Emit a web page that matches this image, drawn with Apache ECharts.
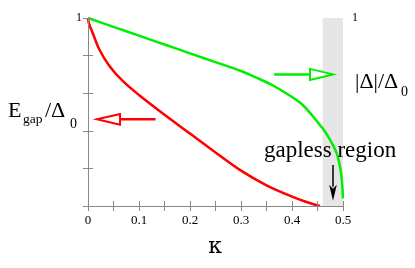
<!DOCTYPE html>
<html><head><meta charset="utf-8">
<script src="https://cdn.jsdelivr.net/npm/echarts@6/dist/echarts.min.js"></script>
<style>html,body{margin:0;padding:0;background:#fff}#c{width:415px;height:268px}</style>
</head><body><div id="c"></div>
<script>
// |Delta|/Delta_0 (green)
const greenKappa = [0,0.05,0.1,0.15,0.2,0.25,0.3,0.33,0.36,0.39,0.42,0.44,0.455,0.465,0.475,0.485,0.49,0.495,0.498,0.5];
const greenVal   = [1,0.953,0.906,0.859,0.812,0.765,0.718,0.683,0.645,0.597,0.54,0.48,0.43,0.395,0.35,0.298,0.26,0.195,0.13,0.04];
// E_gap/Delta_0 (red)
const redKappa = [0,0.002,0.009,0.022,0.042,0.068,0.1,0.15,0.2,0.25,0.3,0.35,0.4,0.43,0.455];
const redVal   = [1,0.97,0.922,0.834,0.745,0.665,0.59,0.485,0.385,0.285,0.188,0.11,0.05,0.02,0];
// shaded gapless region (kappa range)
const gaplessRange = [0.46, 0.5];
// annotation arrows in data coordinates: [tail, tip]
const redArrow   = [[0.1325,0.461],[0.0177,0.461]];
const greenArrow = [[0.365,0.70],[0.4804,0.70]];
const blackArrow = [[0.4804,0.218],[0.4804,0.028]];
// tick labels
const xTickLabels = ['0','0.1','0.2','0.3','0.4','0.5'];
const yTickLabels = ['1'];

const serif = 'Liberation Serif';
const axisGray = '#888888';

function xFmt(v){
  const k = Math.round(v*10);
  if (Math.abs(v*10 - k) > 1e-6) return '';
  return xTickLabels[k] || '';
}
function yFmt(v){ return Math.abs(v-1)<1e-9 ? yTickLabels[0] : ''; }

const baseX = {
  type:'value', min:0, max:0.5, interval:0.05, z:5,
  axisLine:{show:true, lineStyle:{color:axisGray, width:1}},
  axisTick:{show:true, inside:true, length:5, lineStyle:{color:axisGray}},
  splitLine:{show:false}
};
const baseY = {
  type:'value', min:0, max:1, interval:0.2, z:5,
  axisLine:{show:true, lineStyle:{color:axisGray, width:1}},
  axisTick:{show:true, inside:true, length:5, lineStyle:{color:axisGray}},
  splitLine:{show:false}
};

const option = {
  animation:false,
  backgroundColor:'#ffffff',
  grid:{left:88, right:72, top:18, bottom:62, containLabel:false},
  xAxis:[
    Object.assign({}, baseX, {position:'bottom',
      axisLabel:{show:true, formatter:xFmt, color:'#000', fontFamily:serif, fontSize:13, margin:8}}),
    Object.assign({}, baseX, {position:'top', axisLabel:{show:false}})
  ],
  yAxis:[
    Object.assign({}, baseY, {position:'left',
      axisLabel:{show:true, formatter:yFmt, color:'#000', fontFamily:serif, fontSize:12, margin:6, verticalAlign:'middle'}}),
    Object.assign({}, baseY, {position:'right',
      axisLabel:{show:true, formatter:yFmt, color:'#000', fontFamily:serif, fontSize:12, margin:9, verticalAlign:'middle'}})
  ],
  series:[
    {
      type:'line', name:'gap', xAxisIndex:0, yAxisIndex:0, z:3,
      data: redKappa.map((k,i)=>[k, redVal[i]]),
      showSymbol:false, smooth:0.35,
      lineStyle:{color:'#ff0000', width:2.5}
    },
    {
      type:'line', name:'delta', xAxisIndex:0, yAxisIndex:0, z:3,
      data: greenKappa.map((k,i)=>[k, greenVal[i]]),
      showSymbol:false, smooth:0.35,
      lineStyle:{color:'#00ee00', width:2.5},
      markArea:{silent:true, itemStyle:{color:'#e6e6e6'},
        data:[[{xAxis:gaplessRange[0]},{xAxis:gaplessRange[1]}]]}
    }
  ]
};

const chart = echarts.init(document.getElementById('c'), null, {renderer:'canvas'});
chart.setOption(option);

const px = p => chart.convertToPixel({xAxisIndex:0, yAxisIndex:0}, p);

function hollowArrow(arr, color, headLen, half){
  const S = px(arr[0]), T = px(arr[1]);
  const d = Math.sign(S[0]-T[0]);
  const bx = T[0] + d*headLen;
  return [
    {type:'line', z:10, shape:{x1:bx, y1:T[1], x2:S[0], y2:S[1]}, style:{stroke:color, lineWidth:2.5}},
    {type:'polygon', z:10, shape:{points:[[T[0],T[1]],[bx,T[1]-half],[bx,T[1]+half]]},
      style:{fill:'#ffffff', stroke:color, lineWidth:2}}
  ];
}
function solidArrowDown(arr, color, headLen, half){
  const S = px(arr[0]), T = px(arr[1]);
  const by = T[1]-headLen;
  return [
    {type:'line', z:10, shape:{x1:S[0], y1:S[1], x2:T[0], y2:by+2}, style:{stroke:color, lineWidth:1.5}},
    {type:'polygon', z:10, shape:{points:[[T[0],T[1]],[T[0]-half,by],[T[0],by+4],[T[0]+half,by]]},
      style:{fill:color}}
  ];
}
function txt(x, y, s, size, align){
  return {type:'text', z:11, x:x, y:y,
    style:{text:s, fontFamily:serif, fontSize:size, fill:'#000',
      align:align||'left', verticalAlign:'middle', textAlign:align||'left', textVerticalAlign:'middle'}};
}

const g = [].concat(
  hollowArrow(redArrow, '#ff0000', 23, 5.3),
  hollowArrow(greenArrow, '#00ee00', 23, 5.5),
  solidArrowDown(blackArrow, '#000000', 16, 3.8),
  [
    txt(8, 111, 'E', 22),
    txt(23, 119, 'gap', 13.5),
    txt(45, 111, '/Δ', 22),
    txt(70, 124, '0', 14),
    txt(355, 82, '|Δ|/Δ', 22),
    txt(401, 92, '0', 14),
    txt(264, 151, 'gapless region', 23),
    {type:'text', z:11, x:215, y:247, style:{text:'κ', fontFamily:'DejaVu Serif', fontSize:22, fill:'#000',
      align:'center', verticalAlign:'middle', textAlign:'center', textVerticalAlign:'middle'}}
  ]
);
chart.setOption({graphic:g});
</script>
</body></html>
